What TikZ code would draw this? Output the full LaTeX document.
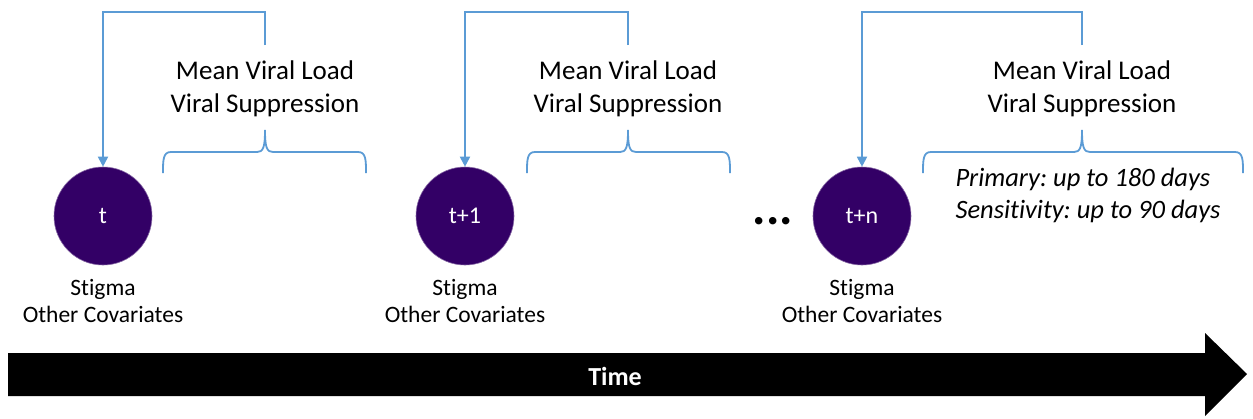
\documentclass[tikz,border=0pt]{standalone}
\usepackage{fontspec}
\setmainfont{Carlito}[Ligatures=NoCommon]
\usetikzlibrary{arrows.meta}
\definecolor{vpurple}{HTML}{330066}
\definecolor{lblue}{HTML}{5B9BD5}
\frenchspacing
\begin{document}
\begin{tikzpicture}[x=1pt,y=-1pt,
  tpoint/.style={circle,fill=vpurple,draw=vpurple!60,line width=0.6pt,minimum size=98pt,inner sep=0pt,text=white,font=\fontsize{24}{28}\selectfont},
  outlbl/.style={align=center,font=\fontsize{27}{33}\selectfont},
  covlbl/.style={align=center,font=\fontsize{23.5}{27}\selectfont},
  fb/.style={draw=lblue,line width=1.8pt,-{Triangle[length=10pt,width=10pt]}},
  bracepath/.style={draw=lblue,line width=1.8pt}
]
\useasboundingbox (0,0) rectangle (1253,418);

% time points
\foreach \n/\x/\lab/\bl/\br/\ox in {1/103/t/163/366/265, 2/465/t+1/527/730/628, 3/862/t+n/923/1243/1082}{
  \node[tpoint] (c\n) at (\x,216) {\lab};
  \node[covlbl] (cov\n) at (\x,301) {Stigma\\Other Covariates};
  \node[outlbl] (out\n) at (\ox,89) {Mean Viral Load\\Viral Suppression};
  \coordinate (s\n) at (\ox,45);
  \coordinate (k\n) at (\ox,12);
  \draw[fb] (s\n) -- (k\n) -| (c\n.north);
  \coordinate (bl\n) at (\bl,173);
  \coordinate (br\n) at (\br,173);
  \coordinate (bm\n) at (\ox,130);
  \draw[bracepath] (bl\n) .. controls (\bl,160) and (\bl,152) .. (\bl+8,152)
     -- (\ox-8,152) .. controls (\ox-2,152) and (\ox,148) .. (bm\n)
     .. controls (\ox,148) and (\ox+2,152) .. (\ox+8,152)
     -- (\br-8,152) .. controls (\br,152) and (\br,160) .. (br\n);
}

\node[font=\fontsize{50}{50}\selectfont\bfseries] (dots) at (773,221) {...};

\node[align=left,anchor=west,font=\fontsize{26.5}{32}\itshape] (win) at (952,195) {Primary: up to 180 days\\Sensitivity: up to 90 days};

% time arrow
\fill[black] (8,353) -- (1205,353) -- (1205,333) -- (1247,374) -- (1205,416) -- (1205,396) -- (8,396) -- cycle;
\node[text=white,font=\fontsize{26}{30}\selectfont\bfseries] (time) at (615,376) {Time};
\end{tikzpicture}
\end{document}
